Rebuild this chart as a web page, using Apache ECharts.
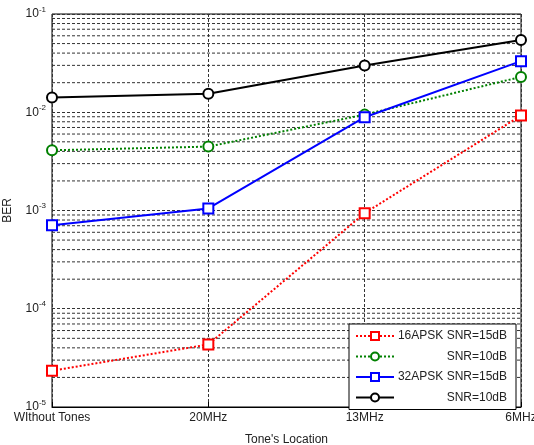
<!DOCTYPE html>
<html><head><meta charset="utf-8">
<script src="https://cdn.jsdelivr.net/npm/echarts@6/dist/echarts.min.js"></script>
<style>html,body{margin:0;padding:0;background:#fff}#c{width:534px;height:445px}</style>
</head><body><div id="c"></div>
<script>
const categories = ['WIthout Tones', '20MHz', '13MHz', '6MHz'];
const apsk16_15 = [2.34e-5, 4.33e-5, 9.4e-4, 9.25e-3];
const apsk16_10 = [4.1e-3, 4.47e-3, 9.46e-3, 2.29e-2];
const apsk32_15 = [7.08e-4, 1.05e-3, 8.9e-3, 3.31e-2];
const apsk32_10 = [1.41e-2, 1.54e-2, 2.99e-2, 5.43e-2];
const seriesNames = ['16APSK SNR=15dB', '16APSK SNR=10dB', '32APSK SNR=15dB', '32APSK SNR=10dB'];
const legendTexts = ['16APSK SNR=15dB', 'SNR=10dB', '32APSK SNR=15dB', 'SNR=10dB'];
const yMin = 1e-5, yMax = 1e-1;
const minorGrid = [];
for (let e = -5; e < -1; e++) for (let m = 2; m <= 9; m++) minorGrid.push(m * Math.pow(10, e));

const chart = echarts.init(document.getElementById('c'), null, {renderer: 'canvas'});
const font = 'Arial, "Liberation Sans", sans-serif';
const gridLine = {color: '#333', width: 1, type: [3, 2]};
const gridSeries = minorGrid.map((v, i) => ({
  name: '_g' + i, type: 'line', data: categories.map(() => v), silent: true,
  symbol: 'none', z: 1, lineStyle: gridLine, emphasis: {disabled: true}, tooltip: {show: false}
}));
chart.setOption({
  animation: false,
  backgroundColor: '#fff',
  textStyle: {fontFamily: font},
  grid: {left: 52, right: 13, top: 14, bottom: 38, outerBoundsMode: 'none', containLabel: false,
    show: true, borderColor: '#000', borderWidth: 1, backgroundColor: '#fff'},
  legend: {
    orient: 'vertical', left: 349, top: 324,
    padding: [6, 9, 6, 6], itemWidth: 38, itemHeight: 10, itemGap: 8.5,
    backgroundColor: '#fff', borderColor: '#000', borderWidth: 1,
    data: seriesNames,
    formatter: n => '{t|' + legendTexts[seriesNames.indexOf(n)] + '}',
    textStyle: {fontFamily: font, fontSize: 12, color: '#222', rich: {t: {width: 108, align: 'right', fontSize: 12, color: '#222', fontFamily: font}}}
  },
  xAxis: {
    type: 'category', data: categories, boundaryGap: false,
    name: "Tone's Location", nameLocation: 'middle', nameGap: 27,
    nameTextStyle: {fontSize: 12, color: '#222', fontFamily: font},
    axisLine: {lineStyle: {color: '#000'}},
    axisTick: {inside: true, length: 5, lineStyle: {color: '#000'}},
    axisLabel: {fontSize: 12, color: '#222', fontFamily: font, margin: 5},
    splitLine: {show: true, lineStyle: gridLine}
  },
  yAxis: {
    type: 'log', logBase: 10, min: yMin, max: yMax,
    name: 'BER', nameLocation: 'middle', nameGap: 38, nameRotate: 90,
    nameTextStyle: {fontSize: 12, color: '#222', fontFamily: font},
    axisLine: {lineStyle: {color: '#000'}},
    axisTick: {inside: true, length: 5, lineStyle: {color: '#000'}},
    axisLabel: {
      margin: 6, color: '#222', fontFamily: font,
      formatter: v => '{b|10}{s|' + Math.round(Math.log10(v)) + '}',
      rich: {b: {fontSize: 12, color: '#222', fontFamily: font}, s: {fontSize: 8, color: '#222', fontFamily: font, padding: [0, 0, 9, 0]}}
    },
    splitLine: {show: true, lineStyle: gridLine}
  },
  series: gridSeries.concat([
    {name: seriesNames[0], type: 'line', data: apsk16_15, z: 3, symbol: 'emptyRect', symbolSize: 10,
      color: '#ff0000', lineStyle: {color: '#ff0000', width: 2, type: [2, 2]}, itemStyle: {color: '#ff0000', borderWidth: 1.5}},
    {name: seriesNames[1], type: 'line', data: apsk16_10, z: 3, symbol: 'emptyCircle', symbolSize: 10,
      color: '#008000', lineStyle: {color: '#008000', width: 2, type: [2, 2]}, itemStyle: {color: '#008000', borderWidth: 1.5}},
    {name: seriesNames[2], type: 'line', data: apsk32_15, z: 4, symbol: 'emptyRect', symbolSize: 10,
      color: '#0000ff', lineStyle: {color: '#0000ff', width: 2}, itemStyle: {color: '#0000ff', borderWidth: 1.5}},
    {name: seriesNames[3], type: 'line', data: apsk32_10, z: 3, symbol: 'emptyCircle', symbolSize: 10,
      color: '#000000', lineStyle: {color: '#000', width: 2}, itemStyle: {color: '#000', borderWidth: 1.5}}
  ])
});
</script></body></html>
